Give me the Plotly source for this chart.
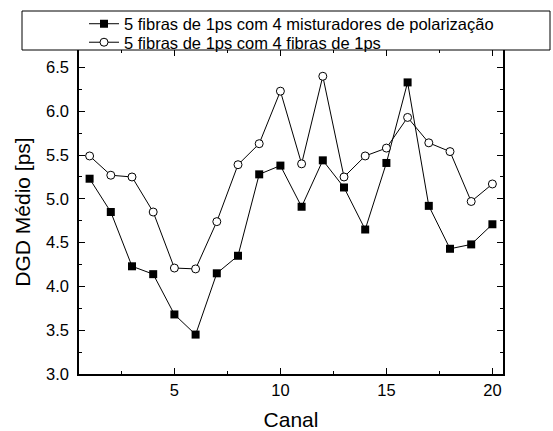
import plotly.graph_objects as go

canal = list(range(1, 21))
misturadores = [5.23, 4.85, 4.23, 4.14, 3.68, 3.45, 4.15, 4.35, 5.28, 5.38,
                4.91, 5.44, 5.13, 4.65, 5.41, 6.33, 4.92, 4.43, 4.48, 4.71]
fibras = [5.49, 5.27, 5.25, 4.85, 4.21, 4.20, 4.74, 5.39, 5.63, 6.23,
          5.40, 6.40, 5.25, 5.49, 5.58, 5.93, 5.64, 5.54, 4.97, 5.17]
nome1 = "5 fibras de 1ps com 4 misturadores de polarização"
nome2 = "5 fibras de 1ps com 4 fibras de 1ps"
xticks = [5, 10, 15, 20]
yticks = [3.0, 3.5, 4.0, 4.5, 5.0, 5.5, 6.0, 6.5]

FONT = "Liberation Sans, Arial, sans-serif"

fig = go.Figure()
fig.add_trace(go.Scatter(
    x=canal, y=misturadores, name=nome1, mode="lines+markers",
    line=dict(color="black", width=1),
    marker=dict(symbol="square", size=8, color="black", line=dict(color="black", width=0)),
    legend="legend",
))
fig.add_trace(go.Scatter(
    x=canal, y=fibras, name=nome2, mode="lines+markers",
    line=dict(color="black", width=1),
    marker=dict(symbol="circle", size=8, color="white", line=dict(color="black", width=1)),
    legend="legend2",
))

W, H = 553, 431
L, R, T, B = 79, 50, 50, 57
pw, ph = W - L - R, H - T - B

def px_x(p):
    return (p - L) / pw

def px_y(p):
    return (H - B - p) / ph

axis_common = dict(
    showline=True, linecolor="black", linewidth=1.5, mirror="ticks",
    ticks="inside", ticklen=6, tickwidth=1, tickcolor="black",
    showgrid=False, zeroline=False,
    tickfont=dict(family=FONT, size=16.5, color="black"),
)

fig.update_xaxes(
    range=[0.5, 20.5], tickvals=xticks, ticktext=[str(v) for v in xticks],
    title=dict(text="Canal", font=dict(family=FONT, size=21, color="black"), standoff=15),
    minor=dict(ticks="inside", ticklen=3, tickwidth=1, tickcolor="black", dtick=2.5, tick0=0, showgrid=False),
    **axis_common,
)
fig.update_yaxes(
    range=[3.0, 6.7], tickvals=yticks, ticktext=[f"{v:.1f}" for v in yticks],
    title=dict(text="DGD Médio [ps]", font=dict(family=FONT, size=21, color="black"), standoff=10),
    minor=dict(ticks="inside", ticklen=3, tickwidth=1, tickcolor="black", dtick=0.25, tick0=0, showgrid=False),
    ticklabelstandoff=5,
    **axis_common,
)

fig.add_shape(type="rect", xref="paper", yref="paper",
              x0=px_x(22), x1=px_x(550), y0=px_y(50), y1=px_y(11),
              line=dict(color="black", width=1), fillcolor="white", layer="above")

leg_common = dict(
    xanchor="left", yanchor="top",
    bgcolor="rgba(0,0,0,0)", borderwidth=0,
    font=dict(family=FONT, size=16.5, color="black"),
    tracegroupgap=0, itemwidth=30,
)

fig.update_layout(
    width=W, height=H,
    margin=dict(l=L, r=R, t=T, b=B, autoexpand=False),
    paper_bgcolor="white", plot_bgcolor="white",
    font=dict(family=FONT, size=16, color="black"),
    showlegend=True,
    legend=dict(x=px_x(84), y=px_y(6.5), **leg_common),
    legend2=dict(x=px_x(84), y=px_y(25), **leg_common),
)

fig.write_html("out.html")
